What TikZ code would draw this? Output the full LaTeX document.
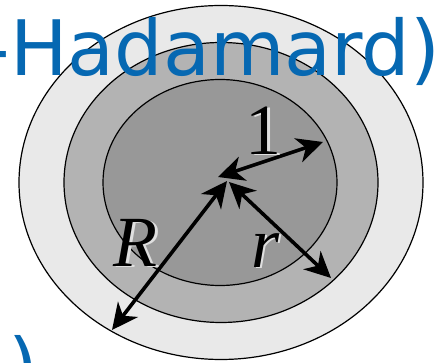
\documentclass[tikz,border=0pt]{standalone}
\usepackage{fontspec}
\setmainfont{Liberation Serif}
\newfontfamily\bluefont{DejaVu Sans}
\usetikzlibrary{arrows.meta}
\definecolor{outerc}{HTML}{E9E9E9}
\definecolor{midc}{HTML}{B3B3B3}
\definecolor{innerc}{HTML}{989898}
\definecolor{blueT}{RGB}{6,104,178}
\tikzset{
  ring/.style={draw=black, line width=1.2pt},
  dimarrow/.style={line width=3.6pt, {Stealth[length=26pt,width=25pt,inset=8pt]}-{Stealth[length=26pt,width=25pt,inset=8pt]}},
  lab/.style={inner sep=0pt, anchor=base, font=\fontsize{72}{80}\selectfont},
  labshadow/.style={lab, text=white!75!gray},
  bluetext/.style={inner sep=0pt, anchor=base west, text=blueT, font=\bluefont\fontsize{76.5}{80}\selectfont}
}
\begin{document}
\begin{tikzpicture}[x=1pt,y=-1pt]
\useasboundingbox (0,0) rectangle (434,363);
\fill[white] (0,0) rectangle (434,363);
% rings
\draw[ring, fill=outerc] (221,182.5) ellipse [x radius=202pt, y radius=177pt];
\draw[ring, fill=midc] (221,182.5) ellipse [x radius=157pt, y radius=140pt];
\draw[ring, fill=innerc] (220,182.5) ellipse [x radius=117pt, y radius=103pt];
% arrow end points
\coordinate (c1) at (218,177);
\coordinate (e1) at (323,142);
\coordinate (cR) at (227,181);
\coordinate (eR) at (112,330);
\coordinate (cr) at (229,182);
\coordinate (er) at (331,278);
\draw[dimarrow] (c1) -- (e1);
\draw[dimarrow] (cR) -- (eR);
\draw[dimarrow] (cr) -- (er);
% labels with light shadow
\node[labshadow] (s1) at (266,156) {1};
\node[lab] (l1) at (263.5,155) {1};
\node[labshadow] (sR) at (138,268) {\itshape R};
\node[lab] (lR) at (135.5,267) {\itshape R};
\node[labshadow] (sr) at (268,269) {\itshape r};
\node[lab] (lr) at (265.5,268) {\itshape r};
% blue text
\node[bluetext] (title) at (-17.5,76) {-Hadamard)};
\node[bluetext] (paren) at (8,394) {)};
\end{tikzpicture}
\end{document}
